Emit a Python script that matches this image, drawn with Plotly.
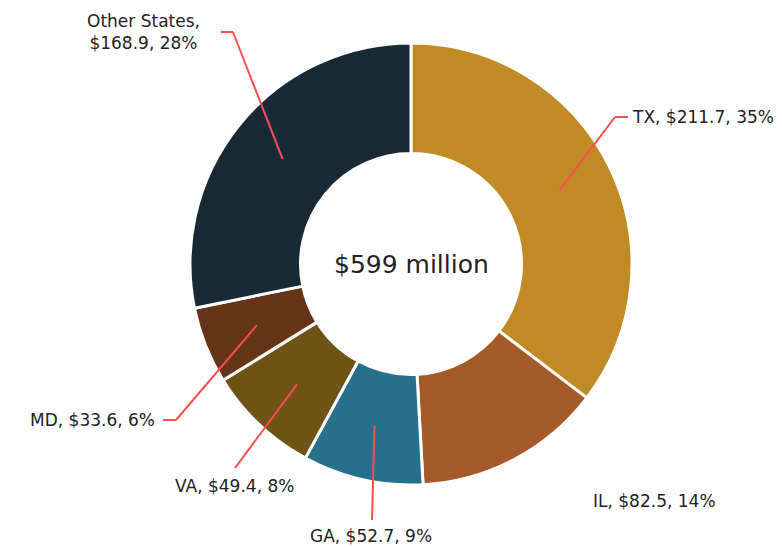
import math
import plotly.graph_objects as go

# ---- data ----
states = ["TX", "IL", "GA", "VA", "MD", "Other States"]
values = [211.7, 82.5, 52.7, 49.4, 33.6, 168.9]
colors = ["#C08A24", "#A65A2A", "#26708E", "#6F5216", "#65351A", "#172A38"]
center_text = "$599 million"

# ---- layout constants (pixels, in page coordinates) ----
OFF = 8                       # page body margin offset
W, H = 782 - OFF, 547 - OFF   # figure size so it fits the window
CX_P, CY_P, R_OUT = 411, 264, 221
HOLE = 0.5
R_MID = R_OUT * (1 + HOLE) / 2
MT = CY_P - OFF - R_OUT
MB = H - MT - 2 * R_OUT
ML = CX_P - OFF - R_OUT - 150
MR = W - ML - 2 * R_OUT - 300
PW, PH = W - ML - MR, H - MT - MB
FONT = "DejaVu Sans, sans-serif"
TEXTC = "#222222"
LINEC = "#FF4D4D"


def px(x, y):
    """page pixel -> paper coordinates"""
    return (x - OFF - ML) / PW, 1 - (y - OFF - MT) / PH


total = sum(values)
pcts = [v / total * 100 for v in values]
labels_txt = [f"{s}, ${v:.1f}, {round(p)}%" for s, v, p in zip(states, values, pcts)]
labels_txt[5] = f"Other States,<br>${values[5]:.1f}, {round(pcts[5])}%"

fig = go.Figure(go.Pie(
    labels=states, values=values, hole=HOLE, sort=False, direction="clockwise",
    rotation=0, marker=dict(colors=colors, line=dict(color="white", width=3)),
    textinfo="none", hoverinfo="label+value+percent", showlegend=False,
))

# leader-line geometry per slice: elbow, stub end, text anchor & alignment
label_layout = {
    "TX": dict(elbow=(615, 117), stub=(628, 117), text=(630, 117), xanchor="left"),
    "IL": dict(elbow=None, stub=None, text=(654, 501), xanchor="center"),
    "GA": dict(elbow=(372, 520), stub=None, text=(371, 536), xanchor="center"),
    "VA": dict(elbow=(235, 468), stub=None, text=(235, 486), xanchor="center"),
    "MD": dict(elbow=(176, 420), stub=(163, 420), text=(157, 420), xanchor="right"),
    "Other States": dict(elbow=(233, 32), stub=(221, 32), text=(143, 32), xanchor="center"),
}

shapes, annotations = [], []
cum = 0.0
for s, p, t in zip(states, pcts, labels_txt):
    mid = (cum + p / 2) / 100 * 2 * math.pi
    cum += p
    sx = CX_P + R_MID * math.sin(mid)
    sy = CY_P - R_MID * math.cos(mid)
    L = label_layout[s]
    if L["elbow"] is not None:
        x0, y0 = px(sx, sy)
        x1, y1 = px(*L["elbow"])
        shapes.append(dict(type="line", xref="paper", yref="paper", x0=x0, y0=y0, x1=x1, y1=y1,
                           line=dict(color=LINEC, width=2)))
        if L["stub"] is not None:
            x2, y2 = px(*L["stub"])
            shapes.append(dict(type="line", xref="paper", yref="paper", x0=x1, y0=y1, x1=x2, y1=y2,
                               line=dict(color=LINEC, width=2)))
    tx, ty = px(*L["text"])
    annotations.append(dict(text=t, x=tx, y=ty, xref="paper", yref="paper", showarrow=False,
                            xanchor=L["xanchor"], yanchor="middle", align="center",
                            font=dict(family=FONT, size=17, color=TEXTC)))

cx, cy = px(CX_P, CY_P)
annotations.append(dict(text=center_text, x=cx, y=cy, xref="paper", yref="paper", showarrow=False,
                        xanchor="center", yanchor="middle",
                        font=dict(family=FONT, size=25, color=TEXTC)))

fig.update_layout(
    width=W, height=H, margin=dict(l=ML, r=MR, t=MT, b=MB),
    paper_bgcolor="white", plot_bgcolor="white",
    shapes=shapes, annotations=annotations,
)

fig.write_html("out.html")
